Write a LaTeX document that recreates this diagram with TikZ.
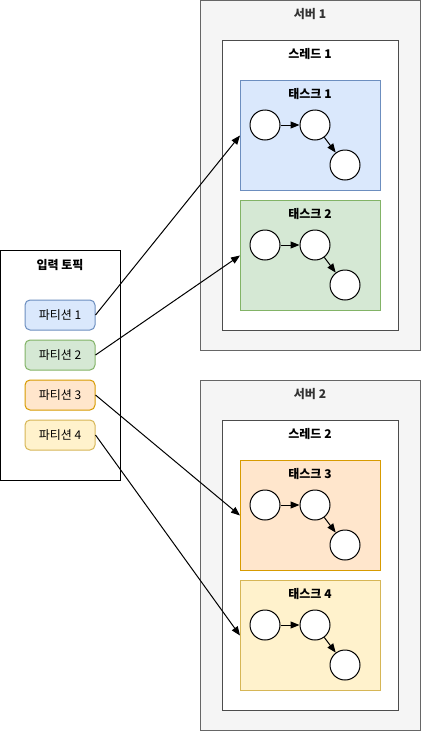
\documentclass[tikz,border=0pt]{standalone}
\usepackage{fontspec}
\setmainfont{Noto Sans CJK KR}
\usetikzlibrary{arrows.meta}
\definecolor{srvfill}{HTML}{F5F5F5}
\definecolor{srvline}{HTML}{666666}
\definecolor{srvtext}{HTML}{333333}
\definecolor{bluef}{HTML}{DAE8FC}\definecolor{bluel}{HTML}{6C8EBF}
\definecolor{greenf}{HTML}{D5E8D4}\definecolor{greenl}{HTML}{82B366}
\definecolor{orangef}{HTML}{FFE6CC}\definecolor{orangel}{HTML}{D79B00}
\definecolor{yellowf}{HTML}{FFF2CC}\definecolor{yellowl}{HTML}{D6B656}
\tikzset{
  box/.style={draw, line width=1pt, anchor=north west, inner sep=0pt},
  ttl/.style={font=\fontsize{12}{14}\selectfont\bfseries, anchor=center},
  part/.style={draw, line width=1pt, rounded corners=5pt, minimum width=70pt, minimum height=30pt, inner sep=0pt, font=\fontsize{12}{14}\selectfont, anchor=center},
  circ/.style={draw, line width=1pt, circle, fill=white, minimum size=30pt, inner sep=0pt},
  arr/.style={-{Triangle[length=9pt,width=7pt]}, line width=1pt},
}
\begin{document}
\begin{tikzpicture}[x=1pt,y=-1pt]
\useasboundingbox (0,0) rectangle (421,731);
% input topic
\node[box, minimum width=120pt, minimum height=230pt] (topic) at (0,250) {};
\node[ttl] (topict) at (60,265) {입력 토픽};
\node[part, fill=bluef, draw=bluel] (p1) at (60,315) {파티션 1};
\node[part, fill=greenf, draw=greenl] (p2) at (60,355) {파티션 2};
\node[part, fill=orangef, draw=orangel] (p3) at (60,395) {파티션 3};
\node[part, fill=yellowf, draw=yellowl] (p4) at (60,435) {파티션 4};
% servers
\foreach \s/\y/\tone/\tf/\tl/\ttwo/\uf/\ul [count=\i] in {1/0/1/bluef/bluel/2/greenf/greenl, 2/380/3/orangef/orangel/4/yellowf/yellowl}{
  \node[box, fill=srvfill, draw=srvline, minimum width=220pt, minimum height=350pt] (srv\s) at (200,\y) {};
  \node[ttl, text=srvtext] (srvt\s) at (310,\y+14) {서버 \s};
  \node[box, fill=white, draw=black!70, minimum width=176pt, minimum height=290pt] (thr\s) at (222,\y+40) {};
  \node[ttl] (thrt\s) at (310,\y+54) {스레드 \s};
  \node[box, fill=\tf, draw=\tl, minimum width=140pt, minimum height=110pt] (task\tone) at (240,\y+80) {};
  \node[ttl] (taskt\tone) at (310,\y+94) {태스크 \tone};
  \node[circ] (a\tone) at (265,\y+125) {};
  \node[circ] (b\tone) at (315,\y+125) {};
  \node[circ] (c\tone) at (345,\y+165) {};
  \node[box, fill=\uf, draw=\ul, minimum width=140pt, minimum height=110pt] (task\ttwo) at (240,\y+200) {};
  \node[ttl] (taskt\ttwo) at (310,\y+214) {태스크 \ttwo};
  \node[circ] (a\ttwo) at (265,\y+245) {};
  \node[circ] (b\ttwo) at (315,\y+245) {};
  \node[circ] (c\ttwo) at (345,\y+285) {};
}
\foreach \k in {1,2,3,4}{
  \draw[arr] (a\k) -- (b\k);
  \draw[arr] (b\k) -- (c\k);
}
\draw[arr] (p1.east) -- (task1.west);
\draw[arr] (p2.east) -- (task2.west);
\draw[arr] (p3.east) -- (task3.west);
\draw[arr] (p4.east) -- (task4.west);
\end{tikzpicture}
\end{document}
